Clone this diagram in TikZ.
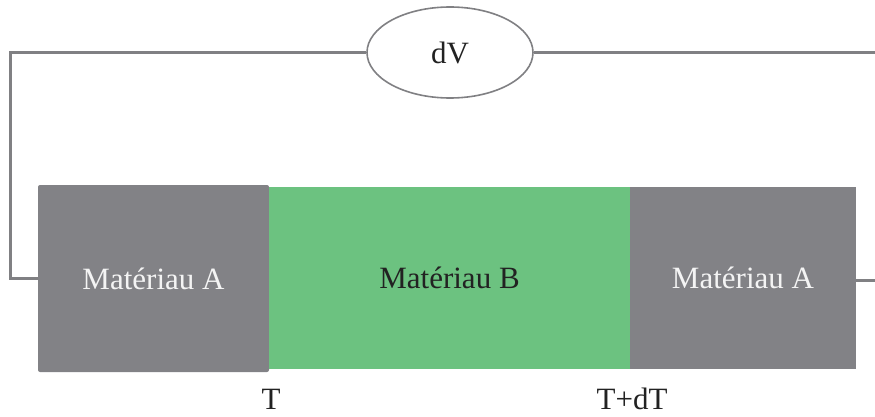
\documentclass[tikz,border=0pt]{standalone}
\usepackage{fontspec}
\setmainfont{Liberation Serif}
\usetikzlibrary{shapes.geometric}
\definecolor{matgray}{HTML}{828286}
\definecolor{matgreen}{HTML}{6CC280}
\definecolor{wiregray}{HTML}{808083}
\definecolor{lighttext}{HTML}{F4F4F4}
\definecolor{darktext}{HTML}{222222}
\tikzset{
  matbox/.style={draw=none, inner sep=0pt, font=\fontsize{31}{36}\selectfont},
  wire/.style={draw=wiregray, line width=3pt},
  meter/.style={ellipse, draw=wiregray, line width=1.6pt, fill=white, inner sep=0pt,
    minimum width=166pt, minimum height=91pt, font=\fontsize{31}{36}\selectfont, text=darktext},
  templabel/.style={inner sep=0pt, font=\fontsize{31}{36}\selectfont, text=darktext}
}
\begin{document}
\begin{tikzpicture}[x=1pt,y=-1pt]
\useasboundingbox (0,0) rectangle (875,417);
\node[matbox, fill=matgray, text=lighttext, minimum width=231pt, minimum height=187pt, rounded corners=2pt] (la) at (153.5,278.5) {Matériau A};
\node[matbox, fill=matgreen, text=darktext, minimum width=361pt, minimum height=182pt] (mb) at (449.5,278) {Matériau B};
\node[matbox, fill=matgray, text=lighttext, minimum width=226pt, minimum height=182pt] (ra) at (743,278) {Matériau A};
\node[meter] (dv) at (450,52.5) {dV};
\coordinate (tl) at (10,52.5);
\coordinate (tr) at (875,52.5);
\coordinate (br) at (875,280);
\draw[wire] (la.west) -| (tl) -- (dv.west);
\draw[wire] (dv.east) -- (tr);
\draw[wire] (ra.east |- br) -- (br);
\node[templabel] (t1) at (271,399) {T};
\node[templabel] (t2) at (632,399) {T+dT};
\end{tikzpicture}
\end{document}
